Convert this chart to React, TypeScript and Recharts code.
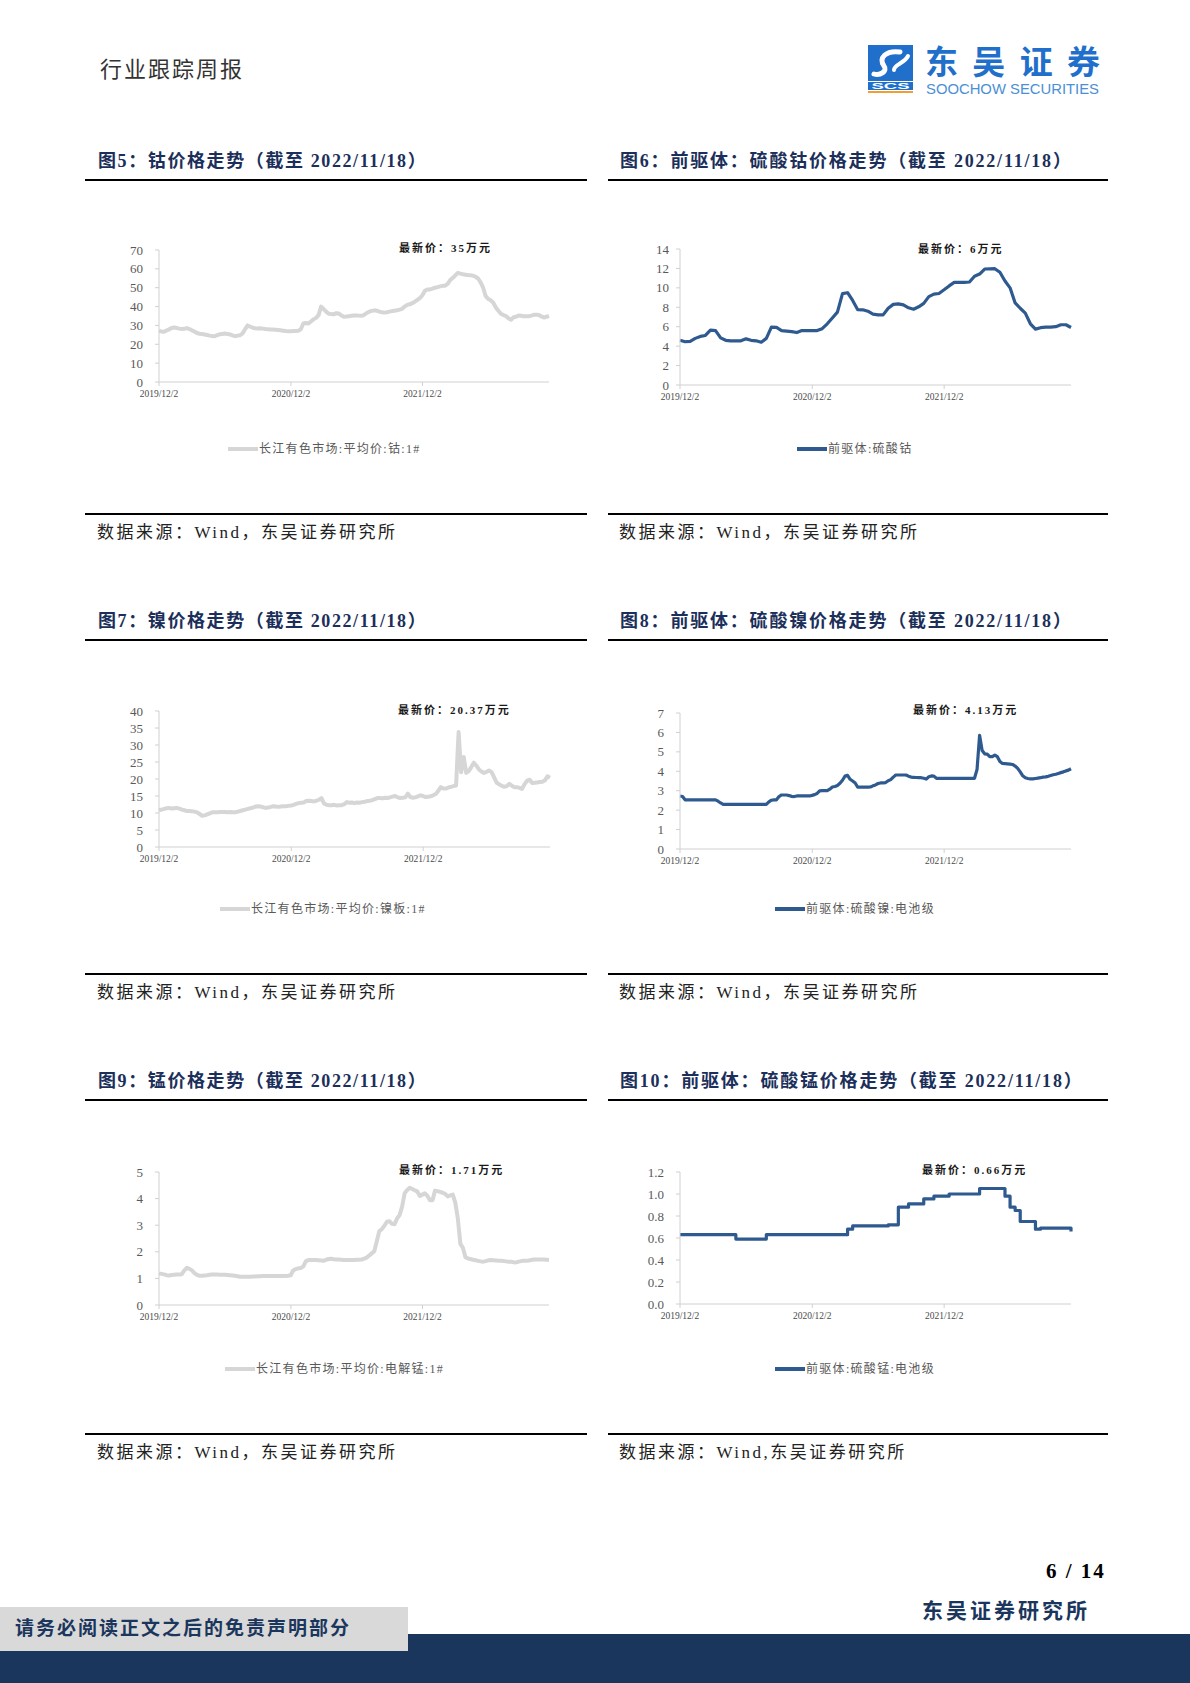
import { LineChart, Line, XAxis, YAxis } from "recharts"

const SERIF = '"Liberation Serif", "Noto Sans CJK SC", serif'
const NAVY = "#1b365d"
const TITLE = "#1b2f5a"
const GRAY_LINE = "#d6d6d6"
const BLUE_LINE = "#2f5a8f"
const AXIS = "#d0d0d0"

// x axis: dates shown under each chart, as days since 2019/12/2; last print 2022/11/18
const dateLabels = ["2019/12/2", "2020/12/2", "2021/12/2"]
const labelDays = [0, 366, 731]
const lastDay = 1082

// 长江有色市场:平均价:钴:1# (万元/吨), weekly
const cobaltPrice = [
  27.1, 26.8, 26.7, 27.3, 27.9, 28.6, 28.9, 28.6, 28.3, 28.1,
  28.2, 28.6, 28.1, 27.4, 26.8, 26.0, 25.6, 25.4, 25.2, 24.9,
  24.6, 24.4, 24.3, 24.8, 25.3, 25.5, 25.7, 25.5, 25.2, 24.7,
  24.3, 24.6, 24.8, 25.8, 28.0, 30.0, 29.3, 28.8, 28.5, 28.4,
  28.5, 28.3, 28.1, 28.0, 27.9, 27.8, 27.7, 27.6, 27.4, 27.2,
  27.0, 26.9, 26.9, 27.0, 27.1, 27.2, 28.0, 31.0, 31.3, 31.0,
  32.1, 33.2, 34.0, 35.5, 40.0, 38.7, 37.3, 36.2, 36.0, 35.9,
  36.5, 36.3, 35.3, 34.6, 34.7, 34.9, 35.1, 35.3, 35.3, 35.2,
  35.1, 35.6, 36.6, 37.3, 37.7, 38.0, 37.8, 37.3, 37.0, 36.8,
  37.0, 37.3, 37.6, 37.8, 38.0, 38.4, 38.8, 40.0, 40.9, 41.2,
  41.8, 42.6, 43.5, 44.5, 46.0, 48.4, 49.1, 49.1, 49.5, 50.0,
  50.3, 50.7, 51.0, 51.1, 52.0, 54.1, 55.2, 56.5, 57.9, 57.5,
  57.1, 56.9, 56.7, 56.6, 56.4, 55.8, 54.9, 52.8, 50.0, 45.5,
  44.0, 43.3, 42.0, 39.5, 37.8, 36.2, 35.5, 35.0, 33.8, 33.0,
  34.3, 34.6, 35.3, 35.1, 34.9, 34.9, 34.9, 35.2, 35.6, 35.7,
  35.5, 34.8, 34.2, 34.6, 35.1,
]

// 前驱体:硫酸钴, every two weeks
const cobaltSulfate = [
  4.6, 4.45, 4.5, 4.8, 5.0, 5.1, 5.65, 5.6, 4.85, 4.6,
  4.55, 4.54, 4.55, 4.75, 4.6, 4.55, 4.4, 4.8, 5.95, 5.93,
  5.6, 5.55, 5.5, 5.4, 5.6, 5.6, 5.6, 5.6, 5.8, 6.3,
  6.9, 7.5, 9.4, 9.5, 8.7, 7.75, 7.74, 7.6, 7.3, 7.22,
  7.22, 7.9, 8.3, 8.35, 8.25, 7.95, 7.8, 8.05, 8.4, 9.1,
  9.36, 9.42, 9.8, 10.2, 10.56, 10.56, 10.56, 10.6, 11.2, 11.42,
  11.94, 11.95, 11.97, 11.6, 10.7, 10.0, 8.45, 7.9, 7.4, 6.3,
  5.75, 5.9, 5.95, 5.95, 6.0, 6.2, 6.2, 5.92,
]

// 长江有色市场:平均价:镍板:1#, weekly
const nickelPrice = [
  10.8, 11.0, 11.2, 11.4, 11.5, 11.3, 11.4, 11.5, 11.3, 11.0,
  10.8, 10.6, 10.6, 10.5, 10.4, 10.2, 9.7, 9.2, 9.3, 9.6,
  9.9, 10.2, 10.2, 10.2, 10.3, 10.3, 10.3, 10.2, 10.3, 10.2,
  10.2, 10.4, 10.6, 10.8, 11.0, 11.2, 11.4, 11.6, 11.9, 12.0,
  11.9, 11.7, 11.5, 11.6, 11.8, 12.0, 11.9, 11.8, 11.9, 12.0,
  12.0, 12.1, 12.2, 12.4, 12.7, 12.9, 13.0, 13.1, 13.5, 13.6,
  13.5, 13.4, 13.6, 13.9, 14.4, 12.8, 12.4, 12.3, 12.3, 12.4,
  12.2, 12.3, 12.3, 12.6, 13.2, 13.0, 13.1, 12.9, 13.1, 13.0,
  13.2, 13.3, 13.5, 13.6, 13.8, 14.1, 14.4, 14.4, 14.3, 14.5,
  14.4, 14.6, 14.8, 15.0, 14.6, 14.4, 14.5, 14.6, 15.7, 14.7,
  14.5, 14.6, 14.9, 15.2, 15.0, 14.7, 14.8, 14.9, 15.2, 15.6,
  16.5, 17.6, 17.2, 17.2, 17.5, 17.7, 17.9, 18.1, 33.8, 22.0,
  26.5, 21.8, 22.3, 23.5, 24.8, 23.9, 22.8, 22.2, 21.8, 22.1,
  22.5, 22.0, 20.5, 18.9, 18.4, 18.0, 17.7, 17.9, 18.6, 18.0,
  17.6, 17.6, 17.4, 17.1, 18.5, 19.5, 19.8, 18.8, 18.9, 19.0,
  19.1, 19.2, 19.6, 20.8, 20.4,
]

// 前驱体:硫酸镍:电池级, weekly
const nickelSulfate = [
  2.73, 2.7, 2.53, 2.53, 2.53, 2.53, 2.53, 2.53, 2.53, 2.53,
  2.53, 2.53, 2.53, 2.53, 2.53, 2.46, 2.37, 2.3, 2.3, 2.3,
  2.3, 2.3, 2.3, 2.3, 2.3, 2.3, 2.3, 2.3, 2.3, 2.3,
  2.3, 2.3, 2.3, 2.3, 2.3, 2.43, 2.51, 2.53, 2.53, 2.7,
  2.78, 2.78, 2.78, 2.75, 2.71, 2.7, 2.73, 2.73, 2.73, 2.73,
  2.73, 2.73, 2.76, 2.8, 2.86, 2.99, 3.0, 3.0, 3.0, 3.08,
  3.19, 3.22, 3.27, 3.38, 3.54, 3.75, 3.79, 3.59, 3.5, 3.4,
  3.18, 3.18, 3.18, 3.18, 3.18, 3.19, 3.25, 3.3, 3.37, 3.4,
  3.4, 3.42, 3.51, 3.57, 3.7, 3.81, 3.81, 3.81, 3.81, 3.81,
  3.75, 3.7, 3.69, 3.68, 3.67, 3.67, 3.64, 3.6, 3.72, 3.76,
  3.75, 3.64, 3.64, 3.64, 3.64, 3.64, 3.64, 3.64, 3.64, 3.64,
  3.64, 3.64, 3.64, 3.64, 3.64, 3.64, 3.64, 4.1, 5.85, 5.07,
  4.9, 4.88, 4.75, 4.75, 4.83, 4.75, 4.5, 4.4, 4.39, 4.38,
  4.37, 4.35, 4.27, 4.15, 3.97, 3.77, 3.67, 3.63, 3.61, 3.61,
  3.63, 3.65, 3.67, 3.7, 3.71, 3.74, 3.78, 3.82, 3.85, 3.89,
  3.93, 3.97, 4.02, 4.06, 4.13,
]

// 长江有色市场:平均价:电解锰:1#, weekly
const manganesePrice = [
  1.19, 1.17, 1.15, 1.12, 1.11, 1.13, 1.14, 1.15, 1.15, 1.16,
  1.3, 1.4, 1.36, 1.3, 1.2, 1.13, 1.1, 1.1, 1.11, 1.12,
  1.14, 1.15, 1.15, 1.15, 1.14, 1.14, 1.14, 1.13, 1.12, 1.11,
  1.1, 1.08, 1.06, 1.06, 1.06, 1.06, 1.06, 1.07, 1.07, 1.08,
  1.08, 1.09, 1.09, 1.09, 1.09, 1.09, 1.09, 1.09, 1.09, 1.09,
  1.09, 1.1, 1.12, 1.3, 1.35, 1.38, 1.39, 1.45, 1.65, 1.69,
  1.69, 1.69, 1.69, 1.68, 1.67, 1.66, 1.7, 1.73, 1.74, 1.72,
  1.71, 1.71, 1.7, 1.69, 1.69, 1.69, 1.69, 1.69, 1.7, 1.7,
  1.71, 1.74, 1.78, 1.86, 1.94, 2.02, 2.4, 2.78, 2.85, 2.98,
  3.13, 3.15, 3.05, 3.04, 3.25, 3.38, 3.7, 4.2, 4.32, 4.41,
  4.36, 4.31, 4.27, 4.1, 4.15, 4.2, 4.1, 3.94, 3.94, 4.3,
  4.28, 4.25, 4.22, 4.18, 4.08, 4.12, 4.15, 3.85, 3.25, 2.3,
  2.15, 1.8, 1.75, 1.73, 1.7, 1.68, 1.66, 1.64, 1.63, 1.65,
  1.68, 1.69, 1.68, 1.67, 1.66, 1.66, 1.65, 1.64, 1.63, 1.63,
  1.61, 1.6, 1.63, 1.65, 1.66, 1.66, 1.67, 1.69, 1.71, 1.71,
  1.71, 1.71, 1.71, 1.7, 1.69,
]

// 前驱体:硫酸锰:电池级, every two weeks
const manganeseSulfate = [
  0.63, 0.63, 0.63, 0.63, 0.63, 0.63, 0.63, 0.63, 0.63, 0.63,
  0.63, 0.59, 0.59, 0.59, 0.59, 0.59, 0.59, 0.63, 0.63, 0.63,
  0.63, 0.63, 0.63, 0.63, 0.63, 0.63, 0.63, 0.63, 0.63, 0.63,
  0.63, 0.63, 0.63, 0.68, 0.71, 0.71, 0.71, 0.71, 0.71, 0.71,
  0.71, 0.72, 0.72, 0.88, 0.88, 0.91, 0.91, 0.91, 0.955, 0.955,
  0.98, 0.98, 0.98, 1.0, 1.0, 1.0, 1.0, 1.0, 1.0, 1.05,
  1.05, 1.05, 1.05, 1.05, 0.98, 0.88, 0.85, 0.75, 0.75, 0.75,
  0.68, 0.69, 0.69, 0.69, 0.69, 0.69, 0.69, 0.66,
]

const ticks70 = [0, 10, 20, 30, 40, 50, 60, 70]
const ticks14 = [0, 2, 4, 6, 8, 10, 12, 14]
const ticks40 = [0, 5, 10, 15, 20, 25, 30, 35, 40]
const ticks7 = [0, 1, 2, 3, 4, 5, 6, 7]
const ticks5 = [0, 1, 2, 3, 4, 5]
const ticks12 = [0, 0.2, 0.4, 0.6, 0.8, 1.0, 1.2]

type Box = { x: number; y: number; w: number; h: number }

type PanelProps = {
  values: number[]
  yTicks: number[]
  decimals?: number
  color: string
  width: number
  curve?: "linear" | "stepAfter"
  box: Box
  labelGap: number
  note: string
  noteAt: [number, number]
  legend: string
  legendAt: [number, number]
}

function PricePanel({
  values,
  yTicks,
  decimals = 0,
  color,
  width,
  curve = "linear",
  box,
  labelGap,
  note,
  noteAt,
  legend,
  legendAt,
}: PanelProps) {
  const n = values.length
  const data = values.map((v, i) => ({ i, v }))
  const xTicks = labelDays.map((d) => (d / lastDay) * (n - 1))
  const padL = 70
  const padT = 10
  const padR = 12
  const axisH = 30

  return (
    <>
      <div style={{ position: "absolute", left: box.x - padL, top: box.y - padT }}>
        <LineChart
          width={box.w + padL + padR}
          height={box.h + padT + axisH}
          data={data}
          margin={{ top: padT, right: padR, bottom: 0, left: 0 }}
        >
          <XAxis
            type="number"
            dataKey="i"
            domain={[0, n - 1]}
            ticks={xTicks}
            interval={0}
            height={axisH}
            tickFormatter={(t: number) => dateLabels[xTicks.indexOf(t)] ?? ""}
            stroke={AXIS}
            tickSize={4}
            tickMargin={4}
            tick={{ fontSize: 9.5, fill: "#4a4a4a", fontFamily: SERIF }}
          />
          <YAxis
            type="number"
            domain={[0, yTicks[yTicks.length - 1]]}
            ticks={yTicks}
            interval={0}
            width={padL}
            tickFormatter={(v: number) => v.toFixed(decimals)}
            stroke={AXIS}
            tickSize={4}
            tickMargin={labelGap - 4}
            tick={{ fontSize: 13, fill: "#595959", fontFamily: SERIF }}
          />
          <Line
            type={curve}
            dataKey="v"
            stroke={color}
            strokeWidth={width}
            strokeLinejoin="round"
            dot={false}
            isAnimationActive={false}
          />
        </LineChart>
      </div>
      <div
        style={{
          position: "absolute",
          left: noteAt[0],
          top: noteAt[1] - 8,
          lineHeight: "16px",
          fontSize: 11,
          fontWeight: 600,
          letterSpacing: 2,
          color: "#1a1a1a",
          whiteSpace: "nowrap",
        }}
      >
        {note}
      </div>
      <div
        style={{
          position: "absolute",
          left: legendAt[0],
          top: legendAt[1] - 8,
          height: 16,
          display: "flex",
          alignItems: "center",
          whiteSpace: "nowrap",
        }}
      >
        <span style={{ display: "inline-block", width: 30, height: width, background: color, marginRight: 1 }} />
        <span style={{ fontSize: 12, letterSpacing: 1.3, color: "#595959", lineHeight: "16px" }}>{legend}</span>
      </div>
    </>
  )
}

function Txt({
  x,
  y,
  size,
  children,
  weight = 400,
  color = "#222",
  spacing = 0,
}: {
  x: number
  y: number
  size: number
  children: string
  weight?: number
  color?: string
  spacing?: number
}) {
  return (
    <div
      style={{
        position: "absolute",
        left: x,
        top: y - size * 0.7,
        fontSize: size,
        lineHeight: `${size * 1.4}px`,
        fontWeight: weight,
        color,
        letterSpacing: spacing,
        whiteSpace: "nowrap",
      }}
    >
      {children}
    </div>
  )
}

function Rule({ x1, x2, y }: { x1: number; x2: number; y: number }) {
  return <div style={{ position: "absolute", left: x1, top: y, width: x2 - x1, height: 2, background: "#000" }} />
}

const LEFT = { x1: 85, x2: 587, text: 98 }
const RIGHT = { x1: 608, x2: 1108, text: 620 }
const rows = [
  { head: 179, foot: 513 },
  { head: 639, foot: 973 },
  { head: 1099, foot: 1433 },
]

const titles = [
  ["图5：钴价格走势（截至 2022/11/18）", "图6：前驱体：硫酸钴价格走势（截至 2022/11/18）"],
  ["图7：镍价格走势（截至 2022/11/18）", "图8：前驱体：硫酸镍价格走势（截至 2022/11/18）"],
  ["图9：锰价格走势（截至 2022/11/18）", "图10：前驱体：硫酸锰价格走势（截至 2022/11/18）"],
]
const sources = [
  ["数据来源：Wind，东吴证券研究所", "数据来源：Wind，东吴证券研究所"],
  ["数据来源：Wind，东吴证券研究所", "数据来源：Wind，东吴证券研究所"],
  ["数据来源：Wind，东吴证券研究所", "数据来源：Wind,东吴证券研究所"],
]

function Logo() {
  return (
    <svg style={{ position: "absolute", left: 860, top: 30 }} width={250} height={72}>
      <rect x={8} y={15} width={45} height={36} fill="#1f6fcb" />
      <path d="M 40 22 C 26 20, 18 28, 24 36 C 28 41, 20 46, 14 44" fill="none" stroke="#fff" strokeWidth={5} strokeLinecap="round" />
      <path d="M 48 26 C 44 34, 34 34, 34 40" fill="none" stroke="#fff" strokeWidth={4} strokeLinecap="round" />
      <rect x={8} y={52} width={45} height={8} fill="#1f6fcb" />
      <text x={30.5} y={59} textAnchor="middle" fontSize={8.5} fontWeight={700} fill="#fff" fontFamily='"Liberation Sans", sans-serif' textLength={38} lengthAdjust="spacingAndGlyphs">
        SCS
      </text>
      <rect x={8} y={61} width={45} height={2} fill="#f0a030" />
      <text x={65} y={44} fontSize={33} fontWeight={700} fill="#1f6fcb" fontFamily='"Noto Sans CJK SC", sans-serif' textLength={175} lengthAdjust="spacing">
        东吴证券
      </text>
      <text x={66} y={64} fontSize={14.5} fill="#4b8fd6" fontFamily='"Liberation Sans", sans-serif' textLength={173} lengthAdjust="spacingAndGlyphs">
        SOOCHOW SECURITIES
      </text>
    </svg>
  )
}

export default function App() {
  return (
    <div
      style={{
        position: "relative",
        width: 1190,
        height: 1683,
        overflow: "hidden",
        background: "#fff",
        fontFamily: SERIF,
      }}
    >
      <style>{`body{margin:0}`}</style>

      <Txt x={100} y={70} size={22} spacing={2} color="#333">
        行业跟踪周报
      </Txt>
      <Logo />

      {rows.map((r, k) => (
        <div key={k}>
          <Txt x={LEFT.text} y={r.head - 17} size={18} weight={700} color={TITLE} spacing={1.6}>
            {titles[k][0]}
          </Txt>
          <Txt x={RIGHT.text} y={r.head - 17} size={18} weight={700} color={TITLE} spacing={1.8}>
            {titles[k][1]}
          </Txt>
          <Rule x1={LEFT.x1} x2={LEFT.x2} y={r.head} />
          <Rule x1={RIGHT.x1} x2={RIGHT.x2} y={r.head} />
          <Rule x1={LEFT.x1} x2={LEFT.x2} y={r.foot} />
          <Rule x1={RIGHT.x1} x2={RIGHT.x2} y={r.foot} />
          <Txt x={97} y={r.foot + 20} size={17} spacing={2.5} color="#222">
            {sources[k][0]}
          </Txt>
          <Txt x={619} y={r.foot + 20} size={17} spacing={2.5} color="#222">
            {sources[k][1]}
          </Txt>
        </div>
      ))}

      <PricePanel
        values={cobaltPrice}
        yTicks={ticks70}
        color={GRAY_LINE}
        width={4}
        box={{ x: 159, y: 250, w: 390, h: 132 }}
        labelGap={16}
        note="最新价：35万元"
        noteAt={[399, 248]}
        legend="长江有色市场:平均价:钴:1#"
        legendAt={[228, 449]}
      />
      <PricePanel
        values={cobaltSulfate}
        yTicks={ticks14}
        color={BLUE_LINE}
        width={3.2}
        box={{ x: 680, y: 249, w: 391, h: 136 }}
        labelGap={11}
        note="最新价：6万元"
        noteAt={[918, 249]}
        legend="前驱体:硫酸钴"
        legendAt={[797, 449]}
      />
      <PricePanel
        values={nickelPrice}
        yTicks={ticks40}
        color={GRAY_LINE}
        width={4}
        box={{ x: 159, y: 711, w: 391, h: 136 }}
        labelGap={16}
        note="最新价：20.37万元"
        noteAt={[398, 710]}
        legend="长江有色市场:平均价:镍板:1#"
        legendAt={[220, 909]}
      />
      <PricePanel
        values={nickelSulfate}
        yTicks={ticks7}
        color={BLUE_LINE}
        width={3.2}
        box={{ x: 680, y: 713, w: 391, h: 136 }}
        labelGap={16}
        note="最新价：4.13万元"
        noteAt={[913, 710]}
        legend="前驱体:硫酸镍:电池级"
        legendAt={[775, 909]}
      />
      <PricePanel
        values={manganesePrice}
        yTicks={ticks5}
        color={GRAY_LINE}
        width={4}
        box={{ x: 159, y: 1172, w: 390, h: 133 }}
        labelGap={16}
        note="最新价：1.71万元"
        noteAt={[399, 1170]}
        legend="长江有色市场:平均价:电解锰:1#"
        legendAt={[225, 1369]}
      />
      <PricePanel
        values={manganeseSulfate}
        yTicks={ticks12}
        decimals={1}
        color={BLUE_LINE}
        width={3.2}
        curve="stepAfter"
        box={{ x: 680, y: 1172, w: 391, h: 132 }}
        labelGap={16}
        note="最新价：0.66万元"
        noteAt={[922, 1170]}
        legend="前驱体:硫酸锰:电池级"
        legendAt={[775, 1369]}
      />

      <Txt x={1046} y={1572} size={21} weight={700} color="#000" spacing={2}>
        6 / 14
      </Txt>
      <Txt x={922} y={1612} size={21} weight={700} color={NAVY} spacing={3}>
        东吴证券研究所
      </Txt>
      <div style={{ position: "absolute", left: 0, top: 1634, width: 1190, height: 49, background: NAVY }} />
      <div style={{ position: "absolute", left: 0, top: 1607, width: 408, height: 44, background: "#d9d9d9" }} />
      <Txt x={15} y={1629} size={19} weight={700} color={NAVY} spacing={2}>
        请务必阅读正文之后的免责声明部分
      </Txt>
    </div>
  )
}
